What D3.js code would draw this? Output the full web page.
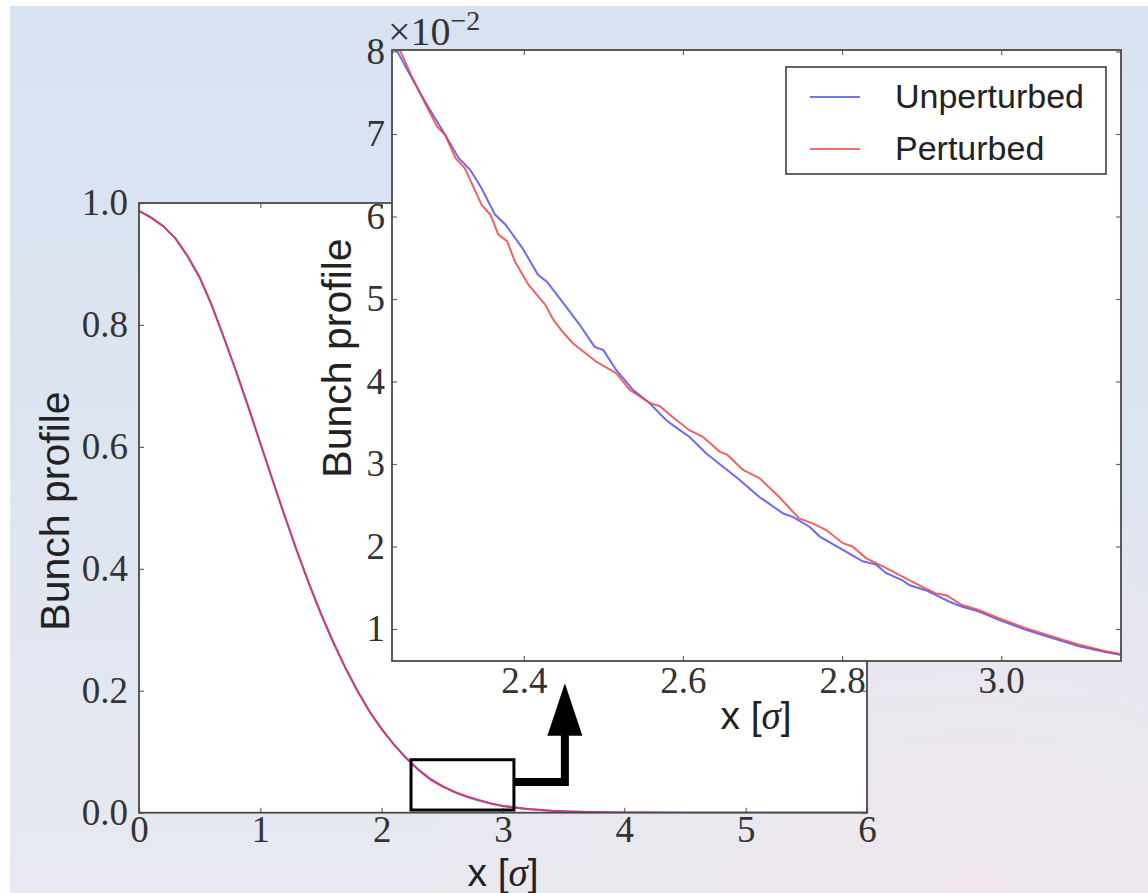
<!DOCTYPE html>
<html><head><meta charset="utf-8">
<script src="https://cdn.jsdelivr.net/npm/d3@7/dist/d3.min.js"></script>
<style>body{margin:0;background:#fff}svg{display:block}</style>
</head><body>
<svg id="c" width="1148" height="893"></svg>
<script>
// ---------- data ----------
const seriesNames = ["Unperturbed", "Perturbed"];

const mainX = [0,0.1,0.2,0.3,0.4,0.5,0.6,0.7,0.8,0.9,1.0,1.1,1.2,1.3,1.4,1.5,1.6,1.7,1.8,1.9,2.0,
  2.1,2.2,2.3,2.4,2.5,2.6,2.7,2.8,2.9,3.0,3.2,3.4,3.6,3.8,4.0,4.5,5.0,5.5,6.0];
const mainUnperturbed = [0.987,0.976,0.962,0.942,0.913,0.878,0.832,0.779,0.724,0.666,0.606,0.546,0.487,0.430,
  0.376,0.326,0.280,0.238,0.200,0.166,0.137,0.112,0.090,0.071,0.056,0.044,0.034,0.026,0.020,0.015,0.011,
  0.006,0.0031,0.0015,0.0007,0.0003,0.00004,0,0,0];
const mainPerturbed = [0.987,0.976,0.962,0.942,0.913,0.878,0.832,0.779,0.724,0.666,0.606,0.546,0.487,0.430,
  0.376,0.326,0.280,0.238,0.200,0.166,0.137,0.112,0.090,0.071,0.054,0.043,0.034,0.027,0.021,0.015,0.011,
  0.006,0.0031,0.0015,0.0007,0.0003,0.00004,0,0,0];

// inset values in units of 1e-2
const insetXUnperturbed = [2.236,2.241,2.259,2.276,2.301,2.318,2.333,2.347,2.364,2.377,2.398,2.418,2.429,2.448,
  2.470,2.489,2.500,2.516,2.537,2.558,2.579,2.596,2.608,2.629,2.650,2.671,2.696,2.726,2.738,2.759,2.772,2.801,
  2.826,2.843,2.855,2.876,2.885,2.905,2.918,2.935,2.951,2.972,2.997,3.031,3.064,3.098,3.131,3.148,3.155];
const insetUnperturbed = [8.05,8.00,7.68,7.39,6.99,6.71,6.56,6.34,6.02,5.90,5.62,5.29,5.21,4.97,4.69,4.42,4.38,
  4.14,3.90,3.74,3.53,3.41,3.33,3.13,2.97,2.81,2.60,2.40,2.36,2.24,2.12,1.96,1.82,1.78,1.68,1.59,1.53,1.47,1.41,
  1.33,1.27,1.21,1.11,0.99,0.89,0.79,0.72,0.69,0.67];
const insetXPerturbed = [2.236,2.245,2.259,2.276,2.291,2.301,2.314,2.326,2.347,2.358,2.368,2.379,2.389,2.406,
  2.427,2.437,2.449,2.462,2.470,2.491,2.516,2.533,2.558,2.571,2.587,2.608,2.625,2.646,2.656,2.675,2.696,2.721,
  2.746,2.763,2.780,2.801,2.813,2.830,2.855,2.885,2.901,2.918,2.931,2.951,2.972,2.997,3.031,3.064,3.098,3.131,
  3.148,3.155];
const insetPerturbed = [8.07,8.00,7.70,7.37,7.09,6.99,6.71,6.58,6.14,6.02,5.78,5.70,5.45,5.17,4.93,4.75,4.60,
  4.46,4.40,4.24,4.10,3.90,3.74,3.70,3.57,3.41,3.33,3.15,3.11,2.93,2.83,2.60,2.34,2.28,2.20,2.04,2.00,1.86,1.74,
  1.59,1.51,1.43,1.41,1.29,1.23,1.13,1.01,0.91,0.81,0.73,0.70,0.68];

const mainXTicks = [0,1,2,3,4,5,6];
const mainYTicks = [0,0.2,0.4,0.6,0.8,1.0];
const insetXTicks = [2.4,2.6,2.8,3.0];
const insetYTicks = [1,2,3,4,5,6,7,8];

// zoom window drawn on the main plot (data coordinates)
const zoomWindow = {x0: 2.242, x1: 3.09, y0: 0.0044, y1: 0.0869};

// ---------- drawing ----------
const svg = d3.select("#c");
const defs = svg.append("defs");
const grad = defs.append("linearGradient").attr("id","bg").attr("x1",0).attr("y1",0).attr("x2",0).attr("y2",1);
grad.append("stop").attr("offset","0%").attr("stop-color","#d8e2f1");
grad.append("stop").attr("offset","55%").attr("stop-color","#dee5f1");
grad.append("stop").attr("offset","100%").attr("stop-color","#e8e9f0");
const grad2 = defs.append("radialGradient").attr("id","pink").attr("cx","0.85").attr("cy","1").attr("r","0.5");
grad2.append("stop").attr("offset","0%").attr("stop-color","#f1e6ec").attr("stop-opacity",0.8);
grad2.append("stop").attr("offset","100%").attr("stop-color","#f1e6ec").attr("stop-opacity",0);

svg.append("rect").attr("x",0).attr("y",0).attr("width",1148).attr("height",893).attr("fill","#fff");
svg.append("rect").attr("x",10).attr("y",6).attr("width",1138).attr("height",887).attr("fill","url(#bg)");
svg.append("rect").attr("x",10).attr("y",6).attr("width",1138).attr("height",887).attr("fill","url(#pink)");

const SERIF = "'Liberation Serif','Times New Roman',serif";
const SANS = "'Liberation Sans',Arial,Helvetica,sans-serif";
const tickColor = "#333";
const blue = "#4646ee", red = "#ee3c3c";

function drawAxes(g, x, y, xt, yt, fx, fy, padX, padY) {
  const [x0, x1] = x.range(), [y0, y1] = y.range();
  const axes = [
    g.append("g").attr("transform",`translate(0,${y0})`).call(d3.axisBottom(x).tickValues(xt).tickSize(-5).tickPadding(padX).tickFormat(fx)),
    g.append("g").attr("transform",`translate(0,${y1})`).call(d3.axisTop(x).tickValues(xt).tickSize(-5).tickFormat("")),
    g.append("g").attr("transform",`translate(${x0},0)`).call(d3.axisLeft(y).tickValues(yt).tickSize(-5).tickPadding(padY).tickFormat(fy)),
    g.append("g").attr("transform",`translate(${x1},0)`).call(d3.axisRight(y).tickValues(yt).tickSize(-5).tickFormat(""))
  ];
  axes.forEach(a => {
    a.select(".domain").remove();
    a.selectAll(".tick line").attr("stroke","#666").attr("stroke-width",1.2);
    a.selectAll(".tick text").attr("fill",tickColor).style("font-family",SERIF).style("font-size","37px");
  });
  g.append("rect").attr("x",x0).attr("y",y1).attr("width",x1-x0).attr("height",y0-y1)
    .attr("fill","none").attr("stroke","#4a4a4a").attr("stroke-width",1.8);
}

function xSigmaLabel(g, cx, baseline) {
  const t = g.append("text").attr("x",cx).attr("y",baseline).attr("text-anchor","middle")
    .style("font-family",SANS).style("font-size","39px").attr("fill","#222");
  t.append("tspan").text("x [");
  t.append("tspan").style("font-family",SERIF).style("font-style","italic").text("σ");
  t.append("tspan").text("]");
}

// ----- main axes -----
const mx = d3.scaleLinear().domain([0,6]).range([139,867]);
const my = d3.scaleLinear().domain([0,1]).range([812.7,203]);
const gMain = svg.append("g");
gMain.append("rect").attr("x",139).attr("y",203).attr("width",728).attr("height",609.7).attr("fill","#fff");
defs.append("clipPath").attr("id","clipMain").append("rect").attr("x",139).attr("y",203).attr("width",728).attr("height",609.7);

const mainLine = d3.line().x(d=>mx(d[0])).y(d=>my(d[1]));
const gm = gMain.append("g").attr("clip-path","url(#clipMain)");
gm.append("path").datum(mainX.map((v,i)=>[v,mainUnperturbed[i]])).attr("d",mainLine)
  .attr("fill","none").attr("stroke",blue).attr("stroke-opacity",0.75).attr("stroke-width",2);
gm.append("path").datum(mainX.map((v,i)=>[v,mainPerturbed[i]])).attr("d",mainLine)
  .attr("fill","none").attr("stroke","#e0305a").attr("stroke-opacity",0.8).attr("stroke-width",2);

drawAxes(gMain, mx, my, mainXTicks, mainYTicks, d=>d3.format("d")(d), d=>d.toFixed(1), 3, 11);

// zoom window rectangle
gMain.append("rect").attr("x",mx(zoomWindow.x0)).attr("y",my(zoomWindow.y1))
  .attr("width",mx(zoomWindow.x1)-mx(zoomWindow.x0)).attr("height",my(zoomWindow.y0)-my(zoomWindow.y1))
  .attr("fill","none").attr("stroke","#000").attr("stroke-width",3);
// arrow
const arrowY = my(0.0505), arrowX = mx(3.51), shaftTop = my(0.128), tipY = my(0.2125);
gMain.append("path").attr("d",`M${mx(zoomWindow.x1)},${arrowY}H${arrowX}V${shaftTop}`)
  .attr("fill","none").attr("stroke","#000").attr("stroke-width",8).attr("stroke-linejoin","miter");
gMain.append("path").attr("d",`M${arrowX-17.5},${shaftTop+1}L${arrowX},${tipY}L${arrowX+17.5},${shaftTop+1}Z`).attr("fill","#000");

gMain.append("text").attr("transform","translate(69,511) rotate(-90)").attr("text-anchor","middle")
  .style("font-family",SANS).style("font-size","41px").attr("fill","#222").text("Bunch profile");
xSigmaLabel(gMain, 503, 886);

// ----- inset axes -----
const ix = d3.scaleLinear().domain([2.2343,3.1506]).range([392,1121]);
const iy = d3.scaleLinear().domain([0.612,8.018]).range([661,50]);
const gIn = svg.append("g");
gIn.append("rect").attr("x",392).attr("y",50).attr("width",729).attr("height",611).attr("fill","#fff");
defs.append("clipPath").attr("id","clipIn").append("rect").attr("x",392).attr("y",50).attr("width",729).attr("height",611);
const inLine = d3.line().x(d=>ix(d[0])).y(d=>iy(d[1]));
const gi = gIn.append("g").attr("clip-path","url(#clipIn)");
gi.append("path").datum(insetXUnperturbed.map((v,i)=>[v,insetUnperturbed[i]])).attr("d",inLine)
  .attr("fill","none").attr("stroke",blue).attr("stroke-opacity",0.8).attr("stroke-width",2);
gi.append("path").datum(insetXPerturbed.map((v,i)=>[v,insetPerturbed[i]])).attr("d",inLine)
  .attr("fill","none").attr("stroke",red).attr("stroke-opacity",0.8).attr("stroke-width",2);

drawAxes(gIn, ix, iy, insetXTicks, insetYTicks, d=>d.toFixed(1), d=>d3.format("d")(d), 6, 7);

// multiplier
const mult = gIn.append("text").attr("x",388).attr("y",45).style("font-family",SERIF).style("font-size","40px").attr("fill",tickColor);
mult.append("tspan").text("×10");
mult.append("tspan").attr("dy",-15).style("font-size","28px").text("−2");

gIn.append("text").attr("transform","translate(351,358) rotate(-90)").attr("text-anchor","middle")
  .style("font-family",SANS).style("font-size","41px").attr("fill","#222").text("Bunch profile");
xSigmaLabel(gIn, 756, 729);

// legend
const lg = gIn.append("g");
lg.append("rect").attr("x",786).attr("y",67).attr("width",320).attr("height",107)
  .attr("fill","#fff").attr("stroke","#333").attr("stroke-width",1.5);
const legColors = [blue, red];
seriesNames.forEach((name,i) => {
  const yy = 97 + i*52;
  lg.append("line").attr("x1",810).attr("x2",860).attr("y1",yy).attr("y2",yy)
    .attr("stroke",legColors[i]).attr("stroke-opacity",0.75).attr("stroke-width",2);
  lg.append("text").attr("x",895).attr("y",yy+11).style("font-family",SANS).style("font-size","34px")
    .attr("fill","#222").text(name);
});
</script>
</body></html>
